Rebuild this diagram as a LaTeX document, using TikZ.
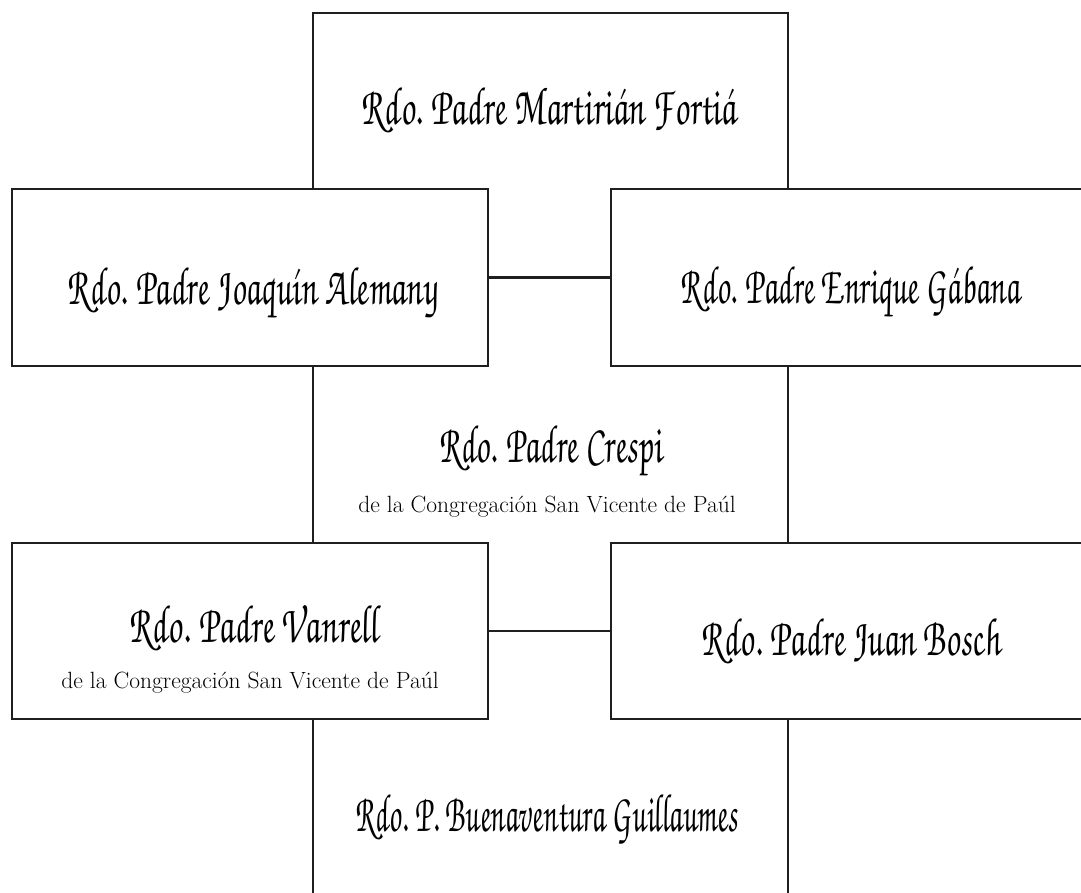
\documentclass[tikz,border=0pt]{standalone}
\usepackage[T1,TU]{fontenc}
\usepackage{graphicx}
\newcommand\scrname{\fontencoding{T1}\fontfamily{pzc}\fontseries{mb}\fontshape{it}\fontsize{40}{44}\selectfont}
\newcommand\subtxt{\fontsize{23.5}{26}\selectfont}
\newcommand\pn[2]{\resizebox{#1}{1.35\height}{\tikz[baseline=0pt]\node[inner sep=0pt,anchor=base,xslant=-0.2,transform shape,font=\scrname]{#2};}}
\begin{document}
\begin{tikzpicture}[x=1pt,y=-1pt,
  frame/.style={draw=black!88,line width=2.7pt,rectangle,inner sep=0pt,minimum height=177pt},
  link/.style={draw=black!88,line width=2.7pt},
  pname/.style={inner sep=0pt,anchor=base},
  subline/.style={font=\subtxt,inner sep=0pt,anchor=base}]
\useasboundingbox (0,0) rectangle (1081,893);
% boxes
\node[frame,minimum width=476pt] (j) at (250,277.5) {};
\node[frame,minimum width=490pt] (e) at (856,277.5) {};
\node[frame,minimum width=476pt,minimum height=176pt] (v) at (250,631) {};
\node[frame,minimum width=490pt,minimum height=176pt] (b) at (856,631) {};
% frame corners
\coordinate (tl) at (313,13);
\coordinate (tr) at (788,13);
\coordinate (bl) at (313,900);
\coordinate (br) at (788,900);
% connectors
\draw[link] (j.north -| tl) -- (tl) -- (tr) -- (e.north -| tr);
\draw[link] (j.east) -- (e.west);
\draw[link] (j.south -| tl) -- (v.north -| tl);
\draw[link] (e.south -| tr) -- (b.north -| tr);
\draw[link] (v.east) -- (b.west);
\draw[link] (v.south -| tl) -- (bl);
\draw[link] (b.south -| tr) -- (br);
% texts
\node[pname] (tm) at (548,125) {\pn{381pt}{Rdo. Padre Martiri\'an Forti\'a}};
\node[pname] (tj) at (252,304) {\pn{377pt}{Rdo. Padre Joaqu\'{\i}n Alemany}};
\node[pname] (te) at (850,303) {\pn{346pt}{Rdo. Padre Enrique G\'abana}};
\node[pname] (tc) at (550,462) {\pn{230pt}{Rdo. Padre Crespi}};
\node[subline] (sc) at (547,512) {de la Congregaci\'on San Vicente de Pa\'ul};
\node[pname] (tv) at (253,642) {\pn{255pt}{Rdo. Padre Vanrell}};
\node[subline] (sv) at (250,688) {de la Congregaci\'on San Vicente de Pa\'ul};
\node[pname] (tb) at (850,655) {\pn{305pt}{Rdo. Padre Juan Bosch}};
\node[pname] (tg) at (546,831) {\pn{388pt}{Rdo. P. Buenaventura Guillaumes}};
\end{tikzpicture}
\end{document}
